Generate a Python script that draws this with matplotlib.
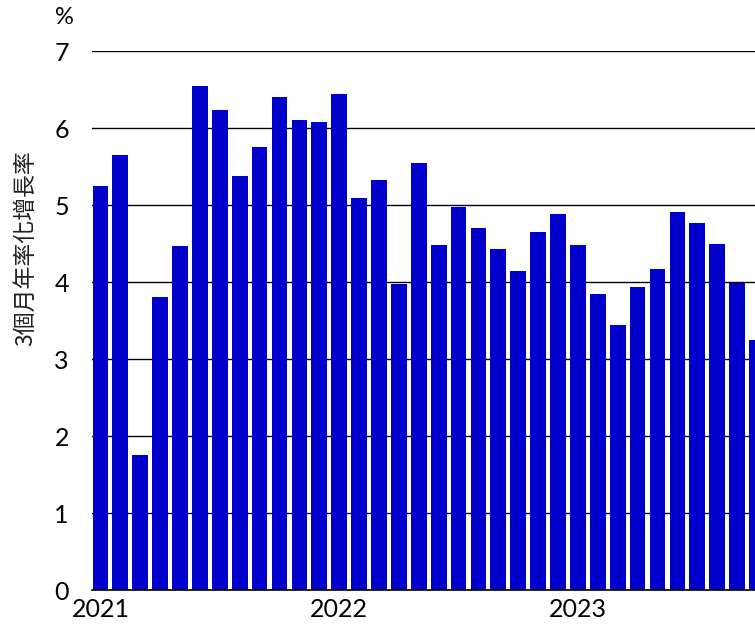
import matplotlib
matplotlib.use("Agg")
import matplotlib.pyplot as plt
from matplotlib import font_manager

months = ["2021-01","2021-02","2021-03","2021-04","2021-05","2021-06","2021-07","2021-08","2021-09","2021-10","2021-11","2021-12",
          "2022-01","2022-02","2022-03","2022-04","2022-05","2022-06","2022-07","2022-08","2022-09","2022-10","2022-11","2022-12",
          "2023-01","2023-02","2023-03","2023-04","2023-05","2023-06","2023-07","2023-08","2023-09","2023-10"]
values = [5.25, 5.65, 1.75, 3.80, 4.47, 6.55, 6.23, 5.38, 5.75, 6.40, 6.10, 6.08,
          6.44, 5.09, 5.32, 3.97, 5.55, 4.48, 4.97, 4.70, 4.43, 4.14, 4.65, 4.88,
          4.48, 3.84, 3.44, 3.94, 4.17, 4.91, 4.76, 4.50, 3.99, 3.25]
year_labels = ["2021", "2022", "2023"]
year_idx = [0, 12, 24]
yticks = [0, 1, 2, 3, 4, 5, 6, 7]
ylabel = "3個月年率化增長率"

names = {f.name for f in font_manager.fontManager.ttflist}
num_font = "Lato" if "Lato" in names else "DejaVu Sans"

fig = plt.figure(figsize=(7.55, 6.26), dpi=100)
ax = fig.add_axes([0.1225, 0.0575, 0.8775, 0.861])
x = list(range(len(values)))
ax.bar(x, values, width=0.79, color="#0000cc", zorder=2)
ax.set_xlim(-0.4, 32.9)
ax.set_ylim(0, 7)
ax.set_yticks(yticks)
ax.set_yticklabels([str(t) for t in yticks], fontname=num_font, fontsize=18)
ax.set_xticks(year_idx)
ax.set_xticklabels(year_labels, fontname=num_font, fontsize=18)
ax.tick_params(axis="y", length=0, pad=17)
ax.tick_params(axis="x", length=0, pad=6)
ax.grid(axis="y", color="black", linewidth=1.0, zorder=0)
for s in ["top", "right", "left"]:
    ax.spines[s].set_visible(False)
ax.spines["bottom"].set_color("black")
ax.spines["bottom"].set_linewidth(1.2)
ax.spines["bottom"].set_zorder(3)
ax.set_ylabel(ylabel, family=["Noto Sans CJK TC", "DejaVu Sans"], fontsize=16.5, color="#222222")
ax.yaxis.set_label_coords(-0.084, 0.634)
fig.text(0.086, 0.972, "%", fontname=num_font, fontsize=17, ha="center", va="center")
fig.savefig("out.png", dpi=100)
